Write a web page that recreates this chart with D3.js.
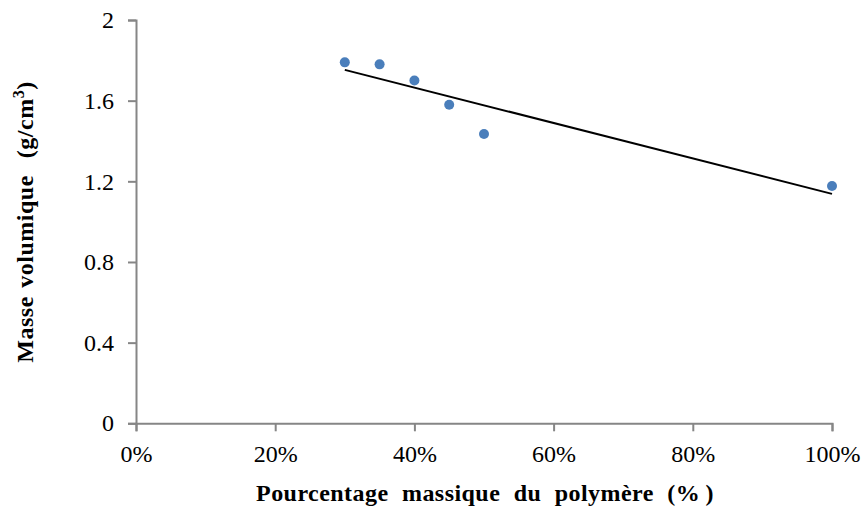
<!DOCTYPE html>
<html>
<head>
<meta charset="utf-8">
<script src="https://cdn.jsdelivr.net/npm/d3@7"></script>
<style>
  body { margin: 0; background: #fff; }
  svg text { font-family: "Liberation Serif", "Times New Roman", serif; }
</style>
</head>
<body>
<div id="chart"></div>
<script>
// data
var fractions = [0.30, 0.35, 0.40, 0.45, 0.50, 1.00];
var densities = [1.79, 1.78, 1.70, 1.58, 1.435, 1.177];
var xTicks = [0, 0.2, 0.4, 0.6, 0.8, 1.0];
var yTicks = [0, 0.4, 0.8, 1.2, 1.6, 2];

var width = 865, height = 510;
var margin = { top: 20, right: 33, bottom: 86, left: 136 };

var svg = d3.select("#chart")
  .append("svg")
  .attr("width", width)
  .attr("height", height);

var x = d3.scaleLinear()
  .domain([0, 1])
  .range([margin.left, width - margin.right]);

var y = d3.scaleLinear()
  .domain([0, 2])
  .range([height - margin.bottom - 0.7, margin.top]);

var axisColor = "#868686";

// x axis
var xAxis = svg.append("g")
  .attr("transform", "translate(0," + y(0) + ")")
  .call(d3.axisBottom(x)
    .tickValues(xTicks)
    .tickSize(8)
    .tickPadding(14)
    .tickFormat(d3.format(".0%")));

// y axis
var yAxis = svg.append("g")
  .attr("transform", "translate(" + x(0) + ",0)")
  .call(d3.axisLeft(y)
    .tickValues(yTicks)
    .tickSize(8)
    .tickPadding(14)
    .tickFormat(function(d) { return d; }));

[xAxis, yAxis].forEach(function(a) {
  a.attr("font-family", null).attr("font-size", null);
  a.select(".domain").attr("stroke", axisColor).attr("stroke-width", 2);
  a.selectAll(".tick line").attr("stroke", axisColor).attr("stroke-width", 2);
  a.selectAll(".tick text")
    .attr("fill", "#000")
    .style("font-size", "24px");
});

// linear trend line (least squares)
var n = fractions.length;
var mx = d3.mean(fractions), my = d3.mean(densities);
var sxy = 0, sxx = 0;
for (var i = 0; i < n; i++) {
  sxy += (fractions[i] - mx) * (densities[i] - my);
  sxx += (fractions[i] - mx) * (fractions[i] - mx);
}
var slope = sxy / sxx, intercept = my - slope * mx;
var x0 = d3.min(fractions), x1 = d3.max(fractions);

svg.append("line")
  .attr("x1", x(x0))
  .attr("y1", y(intercept + slope * x0))
  .attr("x2", x(x1))
  .attr("y2", y(intercept + slope * x1))
  .attr("stroke", "#000")
  .attr("stroke-width", 2);

// points
svg.append("g")
  .selectAll("circle")
  .data(fractions)
  .enter()
  .append("circle")
  .attr("cx", function(d) { return x(d); })
  .attr("cy", function(d, i) { return y(densities[i]); })
  .attr("r", 5)
  .attr("fill", "#4a7ebb");

// axis titles
svg.append("text")
  .attr("x", 485)
  .attr("y", 501)
  .attr("text-anchor", "middle")
  .attr("font-size", "24px")
  .attr("font-weight", "bold")
  .style("word-spacing", "7px")
  .style("letter-spacing", "0.45px")
  .text("Pourcentage massique du polymère (%\u2009)");

var yt = svg.append("text")
  .attr("transform", "translate(33,222) rotate(-90)")
  .attr("text-anchor", "middle")
  .attr("font-size", "24px")
  .attr("font-weight", "bold")
  .style("white-space", "pre")
  .style("word-spacing", "2px")
  .style("letter-spacing", "0.5px");
yt.append("tspan").text("Masse volumique  (g/cm");
yt.append("tspan").attr("font-size", "16px").attr("dy", "-9").text("3");
yt.append("tspan").attr("dy", "9").text(")");
</script>
</body>
</html>
